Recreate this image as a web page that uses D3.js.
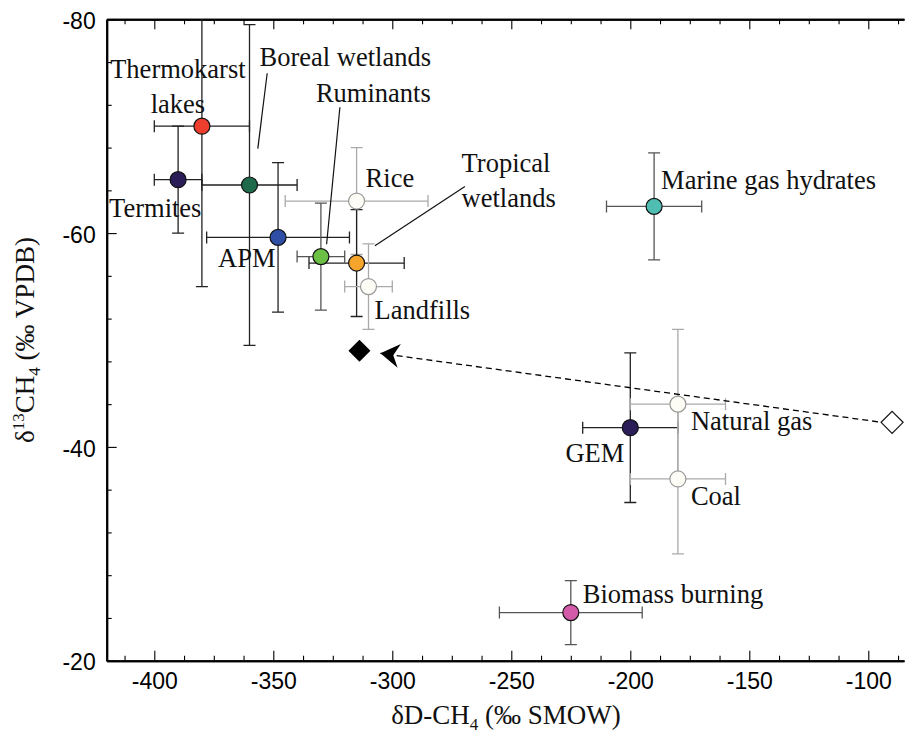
<!DOCTYPE html>
<html>
<head>
<meta charset="utf-8">
<script src="https://cdn.jsdelivr.net/npm/d3@7"></script>
<style>
  body { margin: 0; background: #fff; }
  svg { display: block; }
</style>
</head>
<body>
<div id="chart"></div>
<script>
// source signatures: dD-CH4 (x) vs d13CH4 (y)
var sources = ['Thermokarst lakes', 'Termites', 'Boreal wetlands', 'APM', 'Ruminants', 'Rice',
               'Tropical wetlands', 'Landfills', 'Marine gas hydrates', 'GEM', 'Natural gas', 'Coal', 'Biomass burning'];
var dD =    [-380, -390, -360, -348, -330, -315, -315, -310, -190, -200, -180, -180, -225];
var d13C =  [-70, -65, -64.5, -59.6, -57.8, -63, -57.2, -55, -62.5, -41.8, -44, -37, -24.5];
var dDErr = [20, 10, 20, 30, 10, 30, 20, 10, 20, 20, 20, 20, 30];
var d13Err = [15, 5, 15, 7, 5, 5, 5, 4, 5, 7, 7, 7, 3];
var fills = ['#ee3f2e', '#2b1d58', '#1e6a4b', '#2f4fa6', '#6bbf45', '#fdfdf6',
             '#f5a52b', '#fdfdf6', '#4fbdb2', '#2b1d58', '#fdfdf6', '#fdfdf6', '#d25aa8'];
var barColors = ['#222', '#222', '#222', '#222', '#555', '#aaa',
                 '#222', '#aaa', '#555', '#222', '#aaa', '#aaa', '#555'];
// atmosphere: modelled (open) and observed (filled)
var atmModel = [-90, -42.3];
var atmObs = [-313.8, -49.0];
var arrowTip = [-305, -48.75];

var xTicks = [-400, -350, -300, -250, -200, -150, -100];
var yTicks = [-80, -60, -40, -20];

var SERIF = '"Liberation Serif", "Times New Roman", Times, serif';
var SANS = '"Liberation Sans", Arial, Helvetica, sans-serif';

var W = 905, H = 739;
var margin = {top: 19.3, right: 1, bottom: 78.3, left: 106.7};

var svg = d3.select('#chart').append('svg').attr('width', W).attr('height', H);

var x = d3.scaleLinear().domain([-420, -85]).range([margin.left, W - margin.right]);
var y = d3.scaleLinear().domain([-80, -20]).range([margin.top, H - margin.bottom]);

var xMinor = d3.range(-412.5, -85, 12.5).filter(function(v){ return v % 50 !== 0; });
var yMinor = d3.range(-76, -20, 4).filter(function(v){ return v % 20 !== 0; });
var plain = function(v){ return String(v); };

// axes, ticks pointing inward
function axisStyle(g) {
  g.selectAll('.domain').attr('stroke-width', 2);
  g.selectAll('.tick line').attr('stroke-width', 1.1);
  g.selectAll('.tick text').attr('font-family', SANS).attr('font-size', 23).attr('fill', '#000');
}
var yb = H - margin.bottom;
svg.append('g').attr('transform', 'translate(0,' + yb + ')')
  .call(d3.axisBottom(x).tickValues(xMinor).tickSize(-5).tickSizeOuter(0).tickFormat(''))
  .call(axisStyle);
svg.append('g').attr('transform', 'translate(0,' + yb + ')')
  .call(d3.axisBottom(x).tickValues(xTicks).tickSize(-10).tickSizeOuter(0).tickPadding(12)
        .tickFormat(plain))
  .call(axisStyle);
svg.append('g').attr('transform', 'translate(0,' + margin.top + ')')
  .call(d3.axisTop(x).tickValues(xMinor).tickSize(-5).tickSizeOuter(0).tickFormat(''))
  .call(axisStyle);
svg.append('g').attr('transform', 'translate(0,' + margin.top + ')')
  .call(d3.axisTop(x).tickValues(xTicks).tickSize(-10).tickSizeOuter(0).tickFormat(''))
  .call(axisStyle);
svg.append('g').attr('transform', 'translate(' + margin.left + ',0)')
  .call(d3.axisLeft(y).tickValues(yMinor).tickSize(-5).tickSizeOuter(0).tickFormat(''))
  .call(axisStyle);
svg.append('g').attr('transform', 'translate(' + margin.left + ',0)')
  .call(d3.axisLeft(y).tickValues(yTicks).tickSize(-10).tickSizeOuter(0).tickPadding(11)
        .tickFormat(plain))
  .call(axisStyle)
  .selectAll('.tick text').attr('dy', '0.4em');

// axis titles
var xt = svg.append('text').attr('x', 506).attr('y', 724)
  .attr('text-anchor', 'middle').attr('font-family', SERIF).attr('font-size', 27).attr('fill', '#111');
xt.append('tspan').text('δD-CH');
xt.append('tspan').attr('dy', 6).attr('font-size', 17).text('4');
xt.append('tspan').attr('dy', -6).text(' (‰ SMOW)');

var yt = svg.append('text')
  .attr('transform', 'translate(34,340) rotate(-90)')
  .attr('text-anchor', 'middle').attr('font-family', SERIF).attr('font-size', 27).attr('fill', '#111');
yt.append('tspan').text('δ');
yt.append('tspan').attr('dy', -10).attr('font-size', 17).text('13');
yt.append('tspan').attr('dy', 10).text('CH');
yt.append('tspan').attr('dy', 6).attr('font-size', 17).text('4');
yt.append('tspan').attr('dy', -6).text(' (‰ VPDB)');

// error bars
var pts = sources.map(function(s, i) {
  return {name: s, x: dD[i], y: d13C[i], ex: dDErr[i], ey: d13Err[i], fill: fills[i], bar: barColors[i]};
});
var plot = svg.append('g');
plot.append('clipPath').attr('id', 'clip').append('rect')
  .attr('x', margin.left).attr('y', margin.top)
  .attr('width', W - margin.left - margin.right).attr('height', H - margin.top - margin.bottom);
var bars = plot.append('g').attr('clip-path', 'url(#clip)');
var cap = 6;
pts.forEach(function(d) {
  var g = bars.append('g').attr('stroke', d.bar).attr('stroke-width', 1.3).attr('fill', 'none');
  var cx = x(d.x), cy = y(d.y);
  var x0 = x(d.x - d.ex), x1 = x(d.x + d.ex), y0 = y(d.y - d.ey), y1 = y(d.y + d.ey);
  g.append('path').attr('d',
    'M' + x0 + ',' + cy + 'H' + x1 +
    'M' + x0 + ',' + (cy - cap) + 'V' + (cy + cap) +
    'M' + x1 + ',' + (cy - cap) + 'V' + (cy + cap) +
    'M' + cx + ',' + y0 + 'V' + y1 +
    'M' + (cx - cap) + ',' + y0 + 'H' + (cx + cap) +
    'M' + (cx - cap) + ',' + y1 + 'H' + (cx + cap));
});

// leader lines for labels (offsets from the point, px)
var leaders = {
  'Boreal wetlands': [17.7, -111.7, 8.3, -36.4],
  'Ruminants': [19, -149.4, 5.7, -12.4],
  'Tropical wetlands': [18.3, -17.3, 108.3, -76.6]
};
pts.forEach(function(d) {
  var l = leaders[d.name];
  if (!l) return;
  plot.append('line')
    .attr('x1', x(d.x) + l[0]).attr('y1', y(d.y) + l[1])
    .attr('x2', x(d.x) + l[2]).attr('y2', y(d.y) + l[3])
    .attr('stroke', '#111').attr('stroke-width', 1.2);
});

// circles
plot.selectAll('circle.src').data(pts).enter().append('circle')
  .attr('class', 'src')
  .attr('cx', function(d){ return x(d.x); })
  .attr('cy', function(d){ return y(d.y); })
  .attr('r', 8)
  .attr('fill', function(d){ return d.fill; })
  .attr('stroke', function(d){ return d.fill === '#fdfdf6' ? '#999' : '#111'; })
  .attr('stroke-width', 1.2);

// labels: [lines, dx, dy, anchor]
var labels = {
  'Thermokarst lakes': [['Thermokarst', 'lakes'], -24, -48, 'middle'],
  'Termites': [['Termites'], -69, 37, 'start'],
  'Boreal wetlands': [['Boreal wetlands'], 10, -119, 'start'],
  'APM': [['APM'], -60, 30, 'start'],
  'Ruminants': [['Ruminants'], -5, -155, 'start'],
  'Rice': [['Rice'], 9, -14, 'start'],
  'Tropical wetlands': [['Tropical', 'wetlands'], 105, -90.6, 'start'],
  'Landfills': [['Landfills'], 6, 32.6, 'start'],
  'Marine gas hydrates': [['Marine gas hydrates'], 7, -17, 'start'],
  'GEM': [['GEM'], -6, 34, 'end'],
  'Natural gas': [['Natural gas'], 13, 26, 'start'],
  'Coal': [['Coal'], 13, 26, 'start'],
  'Biomass burning': [['Biomass burning'], 12, -10, 'start']
};
pts.forEach(function(d) {
  var l = labels[d.name];
  var t = plot.append('text').attr('text-anchor', l[3])
    .attr('font-family', SERIF).attr('font-size', 26.5).attr('fill', '#111')
    .attr('x', x(d.x) + l[1]).attr('y', y(d.y) + l[2]);
  l[0].forEach(function(s, k) {
    t.append('tspan').attr('x', x(d.x) + l[1]).attr('dy', k === 0 ? 0 : 35).text(s);
  });
});

// atmosphere diamonds and dashed arrow
svg.append('defs').append('marker')
  .attr('id', 'arrow').attr('markerUnits', 'userSpaceOnUse')
  .attr('viewBox', '-20 -13 22 26').attr('markerWidth', 22).attr('markerHeight', 26)
  .attr('refX', 0).attr('refY', 0).attr('orient', 'auto')
  .append('path').attr('d', 'M0,0L-19,-12L-13,0L-19,12Z').attr('fill', '#000');

var dsz = 11;
function diamond(cx, cy) {
  return 'M' + cx + ',' + (cy - dsz) + 'L' + (cx + dsz) + ',' + cy +
         'L' + cx + ',' + (cy + dsz) + 'L' + (cx - dsz) + ',' + cy + 'Z';
}
plot.append('line')
  .attr('x1', x(atmModel[0]) - dsz - 3).attr('y1', y(atmModel[1]) - 0.5)
  .attr('x2', x(arrowTip[0])).attr('y2', y(arrowTip[1]))
  .attr('stroke', '#000').attr('stroke-width', 1.3).attr('stroke-dasharray', '6,4')
  .attr('marker-end', 'url(#arrow)');
plot.append('path').attr('d', diamond(x(atmModel[0]), y(atmModel[1])))
  .attr('fill', '#fff').attr('stroke', '#111').attr('stroke-width', 1.2);
plot.append('path').attr('d', diamond(x(atmObs[0]), y(atmObs[1])))
  .attr('fill', '#000');
</script>
</body>
</html>
